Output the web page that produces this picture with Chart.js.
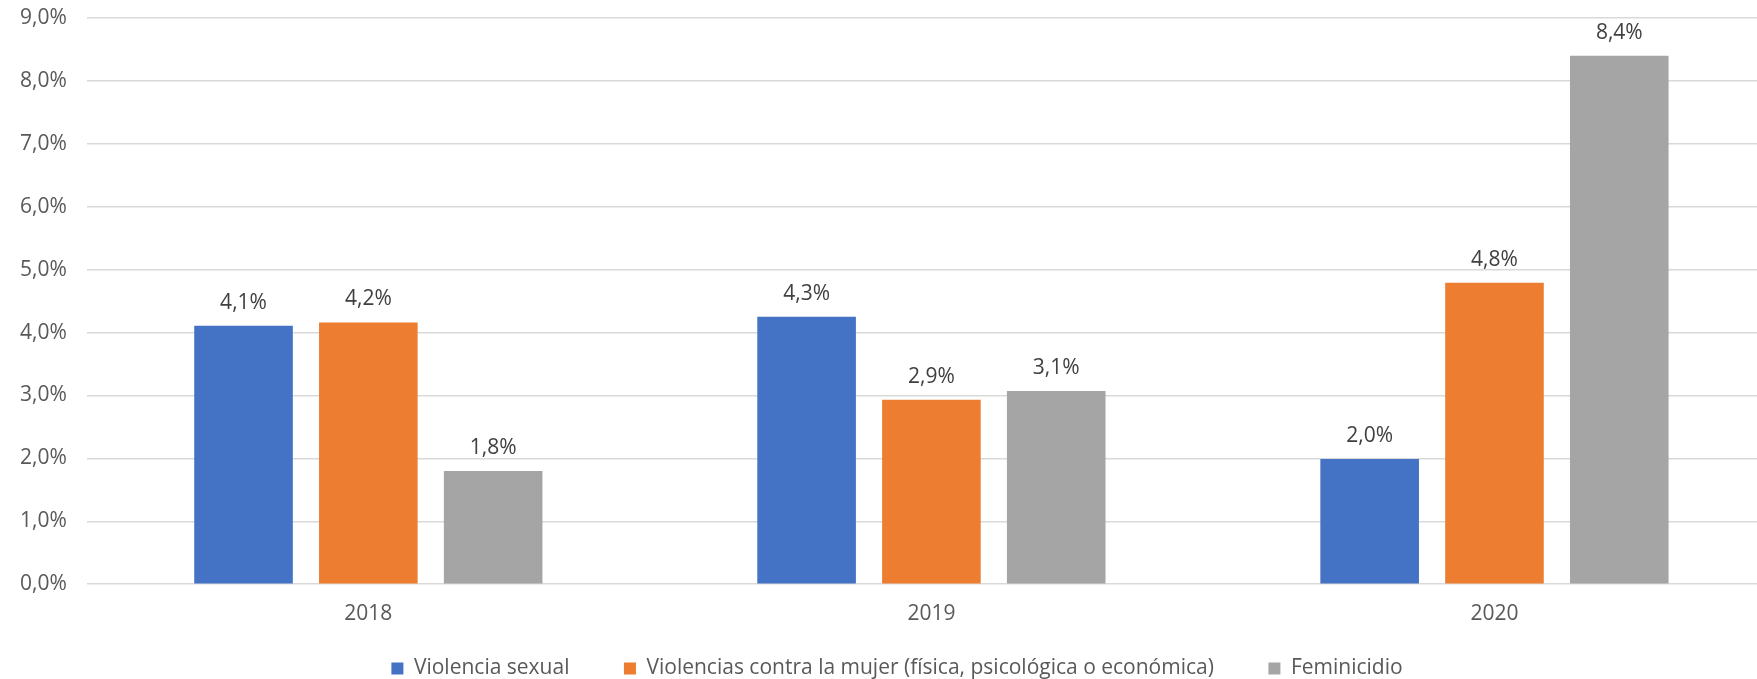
<!DOCTYPE html>
<html>
<head>
<meta charset="utf-8">
<script src="https://cdn.jsdelivr.net/npm/chart.js@4/dist/chart.umd.min.js"></script>
<style>
  html, body { margin: 0; padding: 0; background: #fff; overflow: hidden; width: 1757px; height: 679px; }
  /* el area del grafico original sigue un poco mas alla del borde derecho */
  #wrap { width: 1776px; height: 679px; position: relative; }
  canvas { display: block; }
</style>
</head>
<body>
<div id="wrap"><canvas id="chart"></canvas></div>
<script>
// datos (porcentaje)
const years = ["2018", "2019", "2020"];
const violenciaSexual = [4.11, 4.25, 1.99];
const violenciasMujer = [4.16, 2.93, 4.79];
const feminicidio = [1.80, 3.07, 8.40];
const seriesNames = [
    "Violencia sexual",
    "Violencias contra la mujer (física, psicológica o económica)",
    "Feminicidio"
];

const fmt = v => v.toFixed(1).replace(".", ",") + "%";
// espacio extra entre entradas de la leyenda
const gap = "\u2002\u2002\u2002\u2002\u2002";

const labelPlugin = {
    id: "barLabels",
    afterDatasetsDraw(chart) {
        const ctx = chart.ctx;
        ctx.save();
        ctx.font = "21px 'Open Sans'";
        ctx.fillStyle = "#404040";
        ctx.textAlign = "center";
        ctx.textBaseline = "middle";
        chart.data.datasets.forEach((ds, i) => {
            chart.getDatasetMeta(i).data.forEach((bar, j) => {
                ctx.fillText(fmt(ds.data[j]), bar.x, bar.y - 23);
            });
        });
        ctx.restore();
    }
};

// la leyenda del original esta algo corrida a la derecha
const legendShift = {
    id: "legendShift",
    afterLayout(chart) {
        if (chart.legend) {
            chart.legend.left += 9;
            chart.legend.right += 9;
        }
    }
};

function draw() {
    const ctx = document.getElementById("chart");
    new Chart(ctx, {
        type: "bar",
        data: {
            labels: years,
            datasets: [
                { label: seriesNames[0], data: violenciaSexual, backgroundColor: "#4472c4" },
                { label: seriesNames[1], data: violenciasMujer, backgroundColor: "#ed7d31" },
                { label: seriesNames[2], data: feminicidio, backgroundColor: "#a5a5a5" }
            ]
        },
        options: {
            responsive: true,
            maintainAspectRatio: false,
            animation: false,
            datasets: {
                bar: { categoryPercentage: 0.665, barPercentage: 0.79 }
            },
            layout: { padding: { top: 18, left: 0, right: 0, bottom: -10 } },
            plugins: {
                tooltip: { enabled: false },
                legend: {
                    position: "bottom",
                    labels: {
                        font: { family: "'Open Sans'", size: 21 },
                        color: "#595959",
                        boxWidth: 12,
                        boxHeight: 12,
                        padding: 2,
                        generateLabels(chart) {
                            const items = Chart.defaults.plugins.legend.labels.generateLabels(chart);
                            items.forEach((it, i) => {
                                if (i < items.length - 1) it.text = it.text + gap;
                            });
                            return items;
                        }
                    }
                }
            },
            scales: {
                x: {
                    grid: { display: false, drawTicks: false },
                    border: { display: false },
                    ticks: {
                        color: "#595959",
                        font: { family: "'Open Sans'", size: 21 },
                        padding: 17.7
                    },
                    afterFit(scale) { scale.height += 11.2; }
                },
                y: {
                    min: 0,
                    max: 9,
                    border: { display: false },
                    grid: { color: "#d9d9d9", lineWidth: 1.5, drawTicks: false },
                    ticks: {
                        stepSize: 1,
                        color: "#595959",
                        font: { family: "'Open Sans'", size: 21 },
                        padding: 20,
                        callback: v => fmt(v)
                    },
                    afterFit(scale) { scale.paddingTop = 0; scale.paddingBottom = 0; }
                }
            }
        },
        plugins: [labelPlugin, legendShift]
    });
}

document.fonts.load("21px 'Open Sans'").then(draw, draw);
</script>
</body>
</html>
